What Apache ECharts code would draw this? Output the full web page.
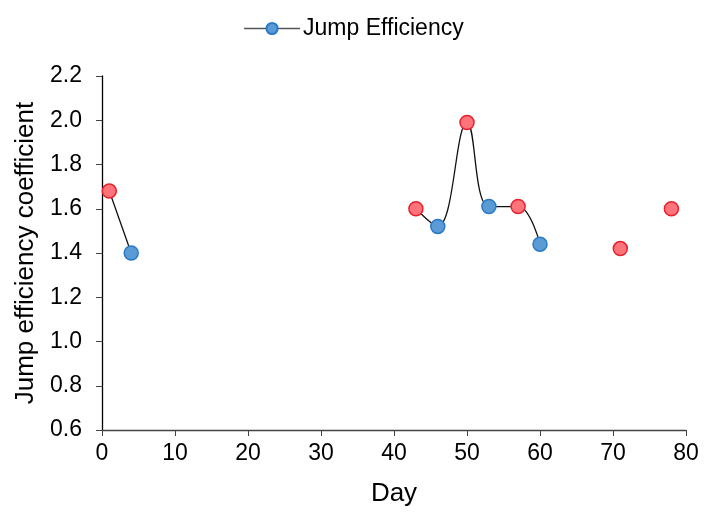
<!DOCTYPE html>
<html>
<head>
<meta charset="utf-8">
<title>Jump Efficiency</title>
<script src="https://cdn.jsdelivr.net/npm/echarts@6/dist/echarts.min.js"></script>
<style>
  html, body { margin: 0; padding: 0; background: #fff; }
  #chart { width: 707px; height: 513px; }
</style>
</head>
<body>
<div id="chart"></div>
<script>
// null marks a break in the line
const days = [1, 4, null, 43, 46, 50, 53, 57, 60, null, 71, null, 78];
const efficiency = [1.68, 1.40, null, 1.60, 1.52, 1.99, 1.61, 1.61, 1.44, null, 1.42, null, 1.60];
// r = red marker, b = blue marker
const markerKind = ['r', 'b', null, 'r', 'b', 'r', 'b', 'r', 'b', null, 'r', null, 'r'];

const markerStyles = {
  r: { color: '#FF737B', borderColor: '#E8202E' },
  b: { color: '#5B9BD5', borderColor: '#2A7AC6' }
};

const font = 'Liberation Sans, Arial, sans-serif';

const seriesData = days.map((d, i) => {
  if (d === null) return [null, null];
  return {
    value: [d, efficiency[i]],
    itemStyle: Object.assign({ borderWidth: 1.5 }, markerStyles[markerKind[i]])
  };
});

const myChart = echarts.init(document.getElementById('chart'));
myChart.setOption({
  animation: false,
  textStyle: { fontFamily: font },
  legend: {
    top: 12,
    left: 'center',
    itemWidth: 56,
    itemHeight: 14,
    itemGap: 6,
    textStyle: { fontSize: 23, color: '#000', fontFamily: font, padding: [0, 0, 0, -2] },
    data: [{
      name: 'Jump Efficiency',
      lineStyle: { color: '#555', width: 1.5 }
    }]
  },
  grid: { left: 102, right: 21, top: 76, bottom: 83 },
  xAxis: {
    type: 'value',
    min: 0,
    max: 80,
    interval: 10,
    name: 'Day',
    nameLocation: 'middle',
    nameGap: 51,
    nameTextStyle: { fontSize: 26, color: '#000', fontFamily: font },
    axisLine: { lineStyle: { color: '#444', width: 1.3 } },
    axisTick: { show: true, length: 6, lineStyle: { color: '#444' } },
    axisLabel: { fontSize: 23, color: '#000', margin: 12, fontFamily: font },
    splitLine: { show: false }
  },
  yAxis: {
    type: 'value',
    min: 0.6,
    max: 2.2,
    interval: 0.2,
    name: 'Jump efficiency coefficient',
    nameLocation: 'middle',
    nameGap: 59,
    nameTextStyle: { fontSize: 26, color: '#000', fontFamily: font },
    axisLine: { show: true, lineStyle: { color: '#000', width: 1.3 } },
    axisTick: { show: true, length: 6, lineStyle: { color: '#444' } },
    axisLabel: {
      fontSize: 23,
      color: '#000',
      margin: 20,
      fontFamily: font,
      formatter: v => v.toFixed(1)
    },
    splitLine: { show: false }
  },
  series: [{
    name: 'Jump Efficiency',
    type: 'line',
    smooth: 0.4,
    connectNulls: false,
    symbol: 'circle',
    symbolSize: 14,
    lineStyle: { color: '#111', width: 1.3 },
    itemStyle: { color: '#5B9BD5', borderColor: '#2A7AC6', borderWidth: 1.5 },
    data: seriesData
  }]
});
</script>
</body>
</html>
